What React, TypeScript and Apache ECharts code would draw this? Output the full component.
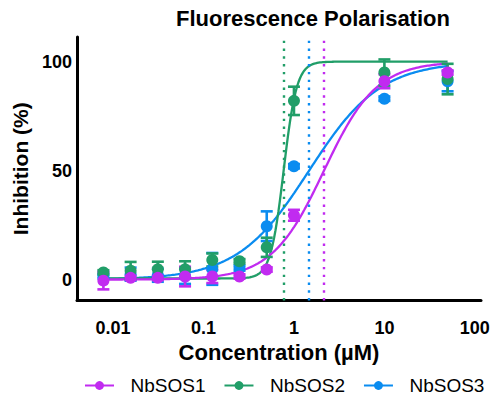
import React, { useEffect, useRef } from "react";
import * as echarts from "echarts";

const concentrations = [0.0078125, 0.015625, 0.03125, 0.0625, 0.125, 0.25, 0.5, 1, 10, 50];
const seriesNames = ["NbSOS1", "NbSOS2", "NbSOS3"];
const sos1Mean = [-0.5, 0.8, 0.8, 1.4, 1.4, 1.4, 4.6, 29.5, 91, 95];
const sos1Err = [4, 1, 1, 4.5, 3, 1, 1, 2.5, 3.2, 1];
const sos2Mean = [3.3, 4.1, 4.7, 4.7, 9, 8.4, 14.8, 82, 95, 92];
const sos2Err = [1, 4, 3.5, 3.7, 3, 1, 4.4, 6.5, 6, 7];
const sos3Mean = [1.5, 2.5, 2, 1.5, 4.9, 5.3, 24.5, 52, 83, 91];
const sos3Err = [1, 3, 3, 3.5, 7.3, 1.2, 6.8, 1, 1, 4.6];
// fitted 4-parameter logistic parameters: [bottom, top, IC50, hill]
const sos1Fit = [0, 100, 2.15, 1.5];
const sos2Fit = [0.5, 100, 0.77, 6];
const sos3Fit = [0, 100, 1.47, 1.1];
const colors = ["#C12BF0", "#219E68", "#0A8CF0"];
const yTicks = [0, 50, 100];

const means = [sos1Mean, sos2Mean, sos3Mean];
const errs = [sos1Err, sos2Err, sos3Err];
const fits = [sos1Fit, sos2Fit, sos3Fit];

function fitCurve(p: number[]) {
  const [bottom, top, ic50, hill] = p;
  const pts: number[][] = [];
  const lo = Math.log10(concentrations[0]);
  const hi = Math.log10(concentrations[concentrations.length - 1]);
  const n = 240;
  for (let i = 0; i <= n; i++) {
    const x = Math.pow(10, lo + ((hi - lo) * i) / n);
    const y = bottom + (top - bottom) / (1 + Math.pow(ic50 / x, hill));
    pts.push([x, y]);
  }
  return pts;
}

const FONT = "'Liberation Sans', Arial, sans-serif";

export default function App() {
  const ref = useRef<HTMLDivElement>(null);
  useEffect(() => {
    if (!ref.current) return;
    const chart = echarts.init(ref.current, null, { renderer: "svg" });
    const series: any[] = [];
    const order = [2, 1, 0];
    order.forEach((i) => {
      series.push({
        name: seriesNames[i],
        type: "line",
        data: fitCurve(fits[i]),
        showSymbol: false,
        symbol: "circle",
        symbolSize: 11,
        itemStyle: { color: colors[i] },
        lineStyle: { color: colors[i], width: 2.3 },
        z: 2,
        markLine: {
          silent: true,
          symbol: "none",
          label: { show: false },
          lineStyle: { color: colors[i], type: [2.4, 5.4], width: 2.4 },
          data: [{ xAxis: fits[i][2] }],
        },
      });
    });
    order.forEach((i) => {
      series.push({
        name: seriesNames[i],
        type: "custom",
        z: 3,
        data: concentrations.map((c, k) => [c, means[i][k], errs[i][k]]),
        renderItem: (params: any, api: any) => {
          const x = api.value(0);
          const y = api.value(1);
          const e = api.value(2);
          const top = api.coord([x, y + e]);
          const bot = api.coord([x, y - e]);
          const hw = 6;
          const st = { stroke: colors[i], lineWidth: 2.6 };
          return {
            type: "group",
            children: [
              { type: "line", shape: { x1: top[0], y1: top[1], x2: bot[0], y2: bot[1] }, style: st },
              { type: "line", shape: { x1: top[0] - hw, y1: top[1], x2: top[0] + hw, y2: top[1] }, style: st },
              { type: "line", shape: { x1: bot[0] - hw, y1: bot[1], x2: bot[0] + hw, y2: bot[1] }, style: st },
            ],
          };
        },
      });
    });
    order.forEach((i) => {
      series.push({
        name: seriesNames[i],
        type: "scatter",
        z: 4,
        symbol: "circle",
        symbolSize: 12,
        itemStyle: { color: colors[i], opacity: 1 },
        data: concentrations.map((c, k) => [c, means[i][k]]),
      });
    });

    chart.setOption({
      animation: false,
      textStyle: { fontFamily: FONT },
      title: {
        text: "Fluorescence Polarisation",
        left: 313,
        textAlign: "center",
        top: 7,
        padding: 0,
        textStyle: { fontFamily: FONT, fontSize: 22, fontWeight: "bold", color: "#000" },
      },
      legend: {
        data: seriesNames,
        left: 84,
        top: 376,
        padding: 0,
        itemWidth: 29,
        itemHeight: 11,
        itemGap: 18,
        textStyle: { fontFamily: FONT, fontSize: 19, color: "#000", padding: [0, 0, 0, 11.5] },
      },
      grid: { left: 77, right: 13, top: 37, bottom: 95.5 },
      xAxis: {
        type: "log",
        logBase: 10,
        min: 0.00399,
        max: 117,
        name: "Concentration (µM)",
        nameLocation: "middle",
        nameGap: 40,
        nameTextStyle: { fontFamily: FONT, fontSize: 22, fontWeight: "bold", color: "#000" },
        axisLine: { onZero: false, lineStyle: { color: "#000", width: 3 } },
        axisTick: { show: false },
        splitLine: { show: false },
        axisLabel: {
          fontFamily: FONT,
          fontSize: 18,
          fontWeight: "bold",
          color: "#000",
          margin: 18,
          formatter: (v: number) => String(parseFloat(Number(v).toPrecision(3))),
        },
      },
      yAxis: {
        type: "value",
        min: -9.6,
        max: 111.3,
        name: "Inhibition (%)",
        nameLocation: "middle",
        nameGap: 45,
        nameTextStyle: { fontFamily: FONT, fontSize: 21, fontWeight: "bold", color: "#000" },
        axisLine: { show: true, lineStyle: { color: "#000", width: 3 } },
        axisTick: { show: false },
        splitLine: { show: false },
        axisLabel: {
          customValues: yTicks,
          fontFamily: FONT,
          fontSize: 18,
          fontWeight: "bold",
          color: "#000",
          margin: 5,
        },
      },
      series,
    });
    return () => chart.dispose();
  }, []);
  return <div ref={ref} style={{ width: 494, height: 396, position: "absolute", left: 0, top: 0 }} />;
}
